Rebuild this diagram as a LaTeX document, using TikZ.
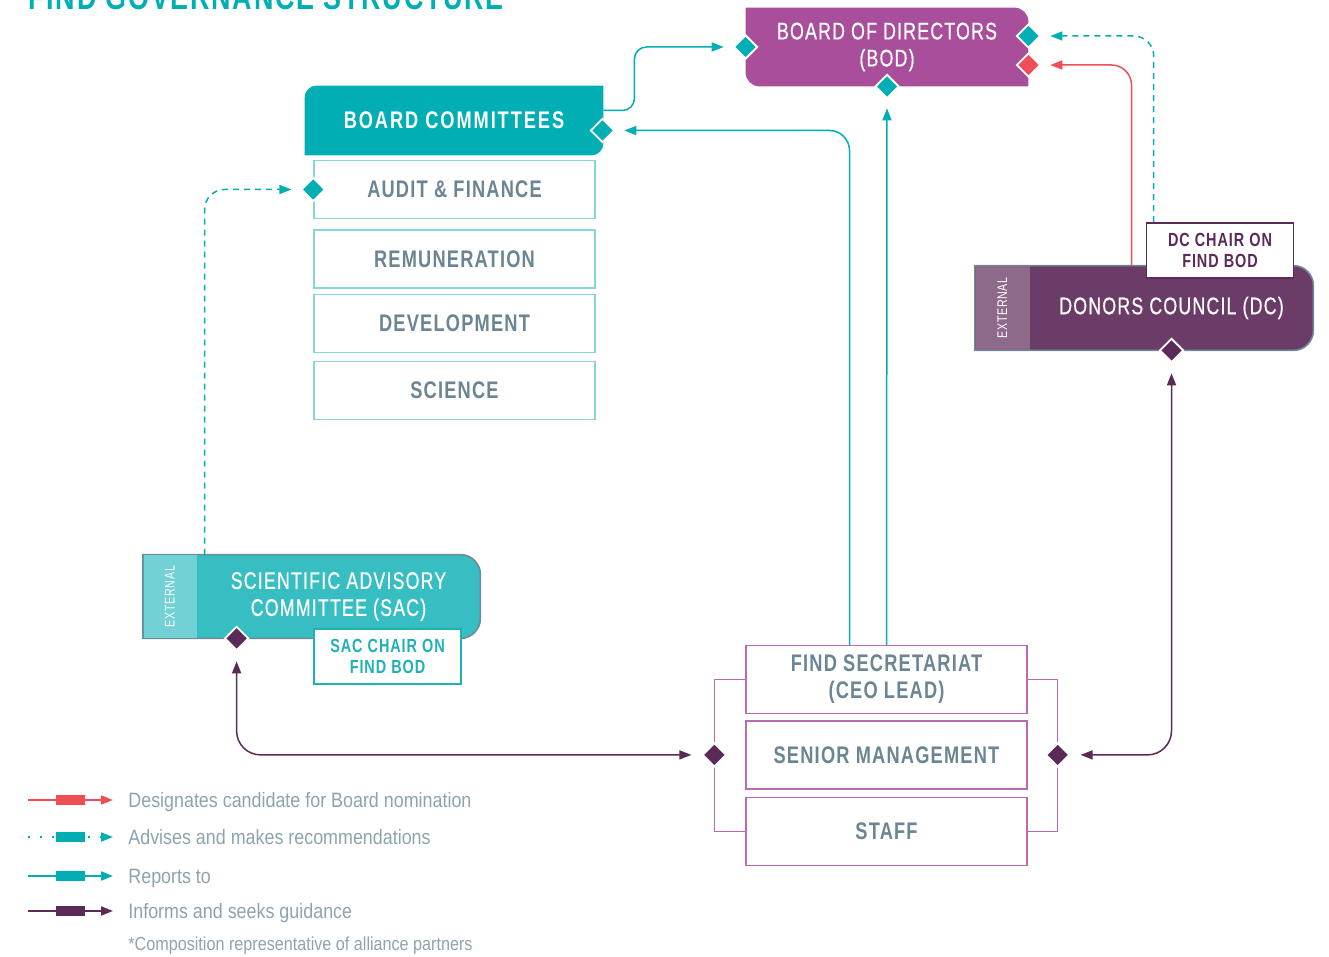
\documentclass[tikz,border=0pt]{standalone}
\usepackage{fontspec}
\setmainfont{Liberation Sans}[FakeStretch=0.86]
\newfontfamily\capsfont{Liberation Sans}[FakeStretch=0.76,LetterSpace=5]
\newfontfamily\medfont{Liberation Sans}[FakeStretch=0.74,LetterSpace=5,FakeBold=0.6]
\usepackage{tikz}
\usetikzlibrary{positioning,calc,arrows.meta,shapes.geometric,backgrounds}

\definecolor{findteal}{HTML}{00AEB3}
\definecolor{sacteal}{HTML}{36BEC3}
\definecolor{sacstrip}{HTML}{72D1D4}
\definecolor{bodpurple}{HTML}{A84E9B}
\definecolor{dcpurple}{HTML}{6C3C68}
\definecolor{dcstrip}{HTML}{8E6A8A}
\definecolor{darkplum}{HTML}{5C2A58}
\definecolor{findred}{HTML}{EE4E55}
\definecolor{slatetext}{HTML}{6B8592}
\definecolor{legendtext}{HTML}{8DA3AF}
\definecolor{secborder}{HTML}{B86AB4}
\definecolor{comborder}{HTML}{86D5D8}
\definecolor{extborder}{HTML}{6F8C96}
\definecolor{chairteal}{HTML}{1FB1B6}

\newcommand{\boxfont}{\capsfont\fontsize{12}{13.5}\selectfont}
\newcommand{\bannerfont}{\medfont\fontsize{12}{13.5}\selectfont}
\newcommand{\chairfont}{\capsfont\bfseries\fontsize{9.5}{10.5}\selectfont}
\newcommand{\extfont}{\capsfont\fontsize{7}{8}\selectfont}

\tikzstyle{line} = [draw,line width=0.75pt]
\tikzstyle{reports} = [line,findteal,->,shorten >=4.5pt]
\tikzstyle{advises} = [reports,dash pattern=on 3pt off 2.5pt]
\tikzstyle{nominate} = [line,findred,->,shorten >=4.5pt]
\tikzstyle{informs} = [line,darkplum,<->,shorten >=5pt,shorten <=5pt]
\tikzstyle{banner} = [inner sep=0pt,text=white,align=center,font=\bannerfont]
\tikzstyle{subbox} = [draw=comborder,line width=0.7pt,fill=white,minimum width=140.5pt,minimum height=29pt,inner sep=0pt,text=slatetext,font=\boxfont\bfseries]
\tikzstyle{secbox} = [subbox,draw=secborder,minimum height=34pt,align=center]
\tikzstyle{chairbox} = [draw,line width=0.8pt,fill=white,minimum width=73.5pt,minimum height=27.5pt,inner sep=0pt,align=center,font=\chairfont]
\tikzstyle{knot} = [diamond,draw=white,line width=0.9pt,inner sep=0pt,minimum size=12pt]
\tikzstyle{keytext} = [anchor=west,inner sep=0pt,text height=7.2pt,text depth=0pt,text=legendtext,font=\fontsize{10.4}{12}\selectfont]

\begin{document}
\begin{tikzpicture}[x=0.5pt,y=-0.5pt,>={Triangle[length=6pt,width=4.5pt]}]
  \useasboundingbox (0,0) rectangle (1329,957);
  \node[anchor=base west,inner sep=0pt,text=findteal,font=\capsfont\bfseries\fontsize{17.7}{20}\selectfont] (title) at (28,10) {FIND GOVERNANCE STRUCTURE};

  % board and committees
  \node[banner,minimum width=141pt,minimum height=39pt] (bod) at (887,47) {BOARD OF DIRECTORS\\(BOD)};
  \node[banner,minimum width=149pt,minimum height=34.5pt,font=\boxfont\bfseries\addfontfeature{LetterSpace=8}] (comm) at (454,120.5) {BOARD COMMITTEES};
  \node[subbox] (audit) at (454.5,189.5) {AUDIT \& FINANCE};
  \node[subbox,below=5pt of audit] (remun) {REMUNERATION};
  \node[subbox,below=2.5pt of remun] (devel) {DEVELOPMENT};
  \node[subbox,below=4pt of devel] (science) {SCIENCE};

  % secretariat
  \node[secbox] (sec) at (886.5,679.5) {FIND SECRETARIAT\\(CEO LEAD)};
  \node[secbox,below=3pt of sec] (mgmt) {SENIOR MANAGEMENT};
  \node[secbox,below=3.5pt of mgmt] (staff) {STAFF};

  % external bodies
  \node[banner,minimum width=141.5pt,minimum height=42pt] (dc) at (1171.5,308) {DONORS COUNCIL (DC)};
  \node[banner,minimum width=27pt,minimum height=42pt,left=0pt of dc,font=\extfont] (dcext) {\rotatebox{90}{EXTERNAL}};
  \node[chairbox,draw=darkplum,text=darkplum] (dcchair) at (1220,250.5) {DC CHAIR ON\\FIND BOD};
  \node[banner,minimum width=141.5pt,minimum height=41.5pt] (sac) at (338.5,596.5) {SCIENTIFIC ADVISORY\\COMMITTEE (SAC)};
  \node[banner,minimum width=26.5pt,minimum height=41.5pt,left=0pt of sac,font=\extfont] (sacext) {\rotatebox{90}{EXTERNAL}};
  \node[chairbox,draw=chairteal,text=chairteal] (sacchair) at (387.5,656.5) {SAC CHAIR ON\\FIND BOD};

  \begin{scope}[on background layer]
    \fill[bodpurple] (bod.north west) -- ($(bod.north east)+(-14,0)$) arc[start angle=90,end angle=0,radius=7pt]
      -- (bod.south east) -- ($(bod.south west)+(14,0)$) arc[start angle=270,end angle=180,radius=7pt] -- cycle;
    \fill[findteal] ($(comm.north west)+(12,0)$) -- (comm.north east) -- ($(comm.south east)+(0,-12)$) arc[start angle=0,end angle=-90,radius=6pt]
      -- (comm.south west) -- ($(comm.north west)+(0,12)$) arc[start angle=180,end angle=90,radius=6pt] -- cycle;
    \filldraw[fill=dcpurple,draw=extborder,line width=0.8pt] (dcext.north west) -- ($(dc.north east)+(-20,0)$) arc[start angle=90,end angle=0,radius=10pt]
      -- ($(dc.south east)+(0,-20)$) arc[start angle=0,end angle=-90,radius=10pt] -- (dcext.south west) -- cycle;
    \fill[dcstrip] ([shift={(0.4pt,-0.4pt)}]dcext.north west) rectangle ([yshift=0.4pt]dcext.south east);
    \filldraw[fill=sacteal,draw=extborder,line width=0.8pt] (sacext.north west) -- ($(sac.north east)+(-20,0)$) arc[start angle=90,end angle=0,radius=10pt]
      -- ($(sac.south east)+(0,-20)$) arc[start angle=0,end angle=-90,radius=10pt] -- (sacext.south west) -- cycle;
    \fill[sacstrip] ([shift={(0.4pt,-0.4pt)}]sacext.north west) rectangle ([yshift=0.4pt]sacext.south east);
  \end{scope}

  % brackets round the secretariat
  \draw[secborder,line width=0.7pt] (sec.west) -- ++(-31,0) |- (staff.west);
  \draw[secborder,line width=0.7pt] (sec.east) -- ++(30,0) |- (staff.east);

  % joints
  \node[knot,fill=findteal] (dBODw) at (bod.west) {};
  \node[knot,fill=findteal] (dBODt) at ($(bod.east)+(0,-11)$) {};
  \node[knot,fill=findred] (dBODr) at ($(bod.east)+(0,18)$) {};
  \node[knot,fill=findteal] (dBODs) at (bod.south) {};
  \node[knot,fill=findteal] (dComm) at ($(comm.east)+(-1,10)$) {};
  \node[knot,fill=findteal] (dAudit) at (audit.west) {};
  \node[knot,fill=darkplum] (dDC) at (dc.south) {};
  \node[knot,fill=darkplum] (dSAC) at ($(sacext.south east)+(40,0)$) {};
  \node[knot,fill=darkplum] (dSecL) at ($(mgmt.west)+(-31,0)$) {};
  \node[knot,fill=darkplum] (dSecR) at ($(mgmt.east)+(30,0)$) {};

  % connectors
  \draw[reports,rounded corners=6pt] ($(comm.east)+(0,-10)$) -- ++(31,0) |- (dBODw);
  \draw[reports,rounded corners=10pt] ($(sec.north)+(-37,0)$) |- (dComm);
  \draw[reports] (sec.north) -- (dBODs);
  \draw[nominate,rounded corners=10pt] ($(dc.north)+(-40,0)$) |- (dBODr);
  \draw[advises,rounded corners=10pt] ($(dcchair.north west)+(8,0)$) |- (dBODt);
  \draw[advises,rounded corners=10pt] ($(sacext.north east)+(8,0)$) |- (dAudit);
  \draw[informs,rounded corners=12pt] (dDC) |- (dSecR);
  \draw[informs,rounded corners=12pt] (dSAC) |- (dSecL);

  % legend
  \node[keytext] (lgnom) at (128,800) {Designates candidate for Board nomination};
  \node[keytext] (lgadv) at (128,837) {Advises and makes recommendations};
  \node[keytext] (lgrep) at (128,876) {Reports to};
  \node[keytext] (lginf) at (128,911) {Informs and seeks guidance};
  \node[keytext,font=\fontsize{9.4}{11}\selectfont,text height=6.5pt] (lgnote) at (128,944) {*Composition representative of alliance partners};
  \draw[nominate,line width=1pt,shorten >=0pt] ($(lgnom.west)+(-100,0)$) -- ($(lgnom.west)+(-15,0)$);
  \fill[findred] ($(lgnom.west)+(-72,-5)$) rectangle ++(29,10);
  \draw[reports,line width=1pt,dash pattern=on 1pt off 5pt,shorten >=0pt] ($(lgadv.west)+(-100,0)$) -- ($(lgadv.west)+(-15,0)$);
  \fill[findteal] ($(lgadv.west)+(-72,-5)$) rectangle ++(29,10);
  \draw[reports,line width=1pt,shorten >=0pt] ($(lgrep.west)+(-100,0)$) -- ($(lgrep.west)+(-15,0)$);
  \fill[findteal] ($(lgrep.west)+(-72,-5)$) rectangle ++(29,10);
  \draw[informs,line width=1pt,-> ,shorten >=0pt,shorten <=0pt] ($(lginf.west)+(-100,0)$) -- ($(lginf.west)+(-15,0)$);
  \fill[darkplum] ($(lginf.west)+(-72,-5)$) rectangle ++(29,10);
\end{tikzpicture}
\end{document}
